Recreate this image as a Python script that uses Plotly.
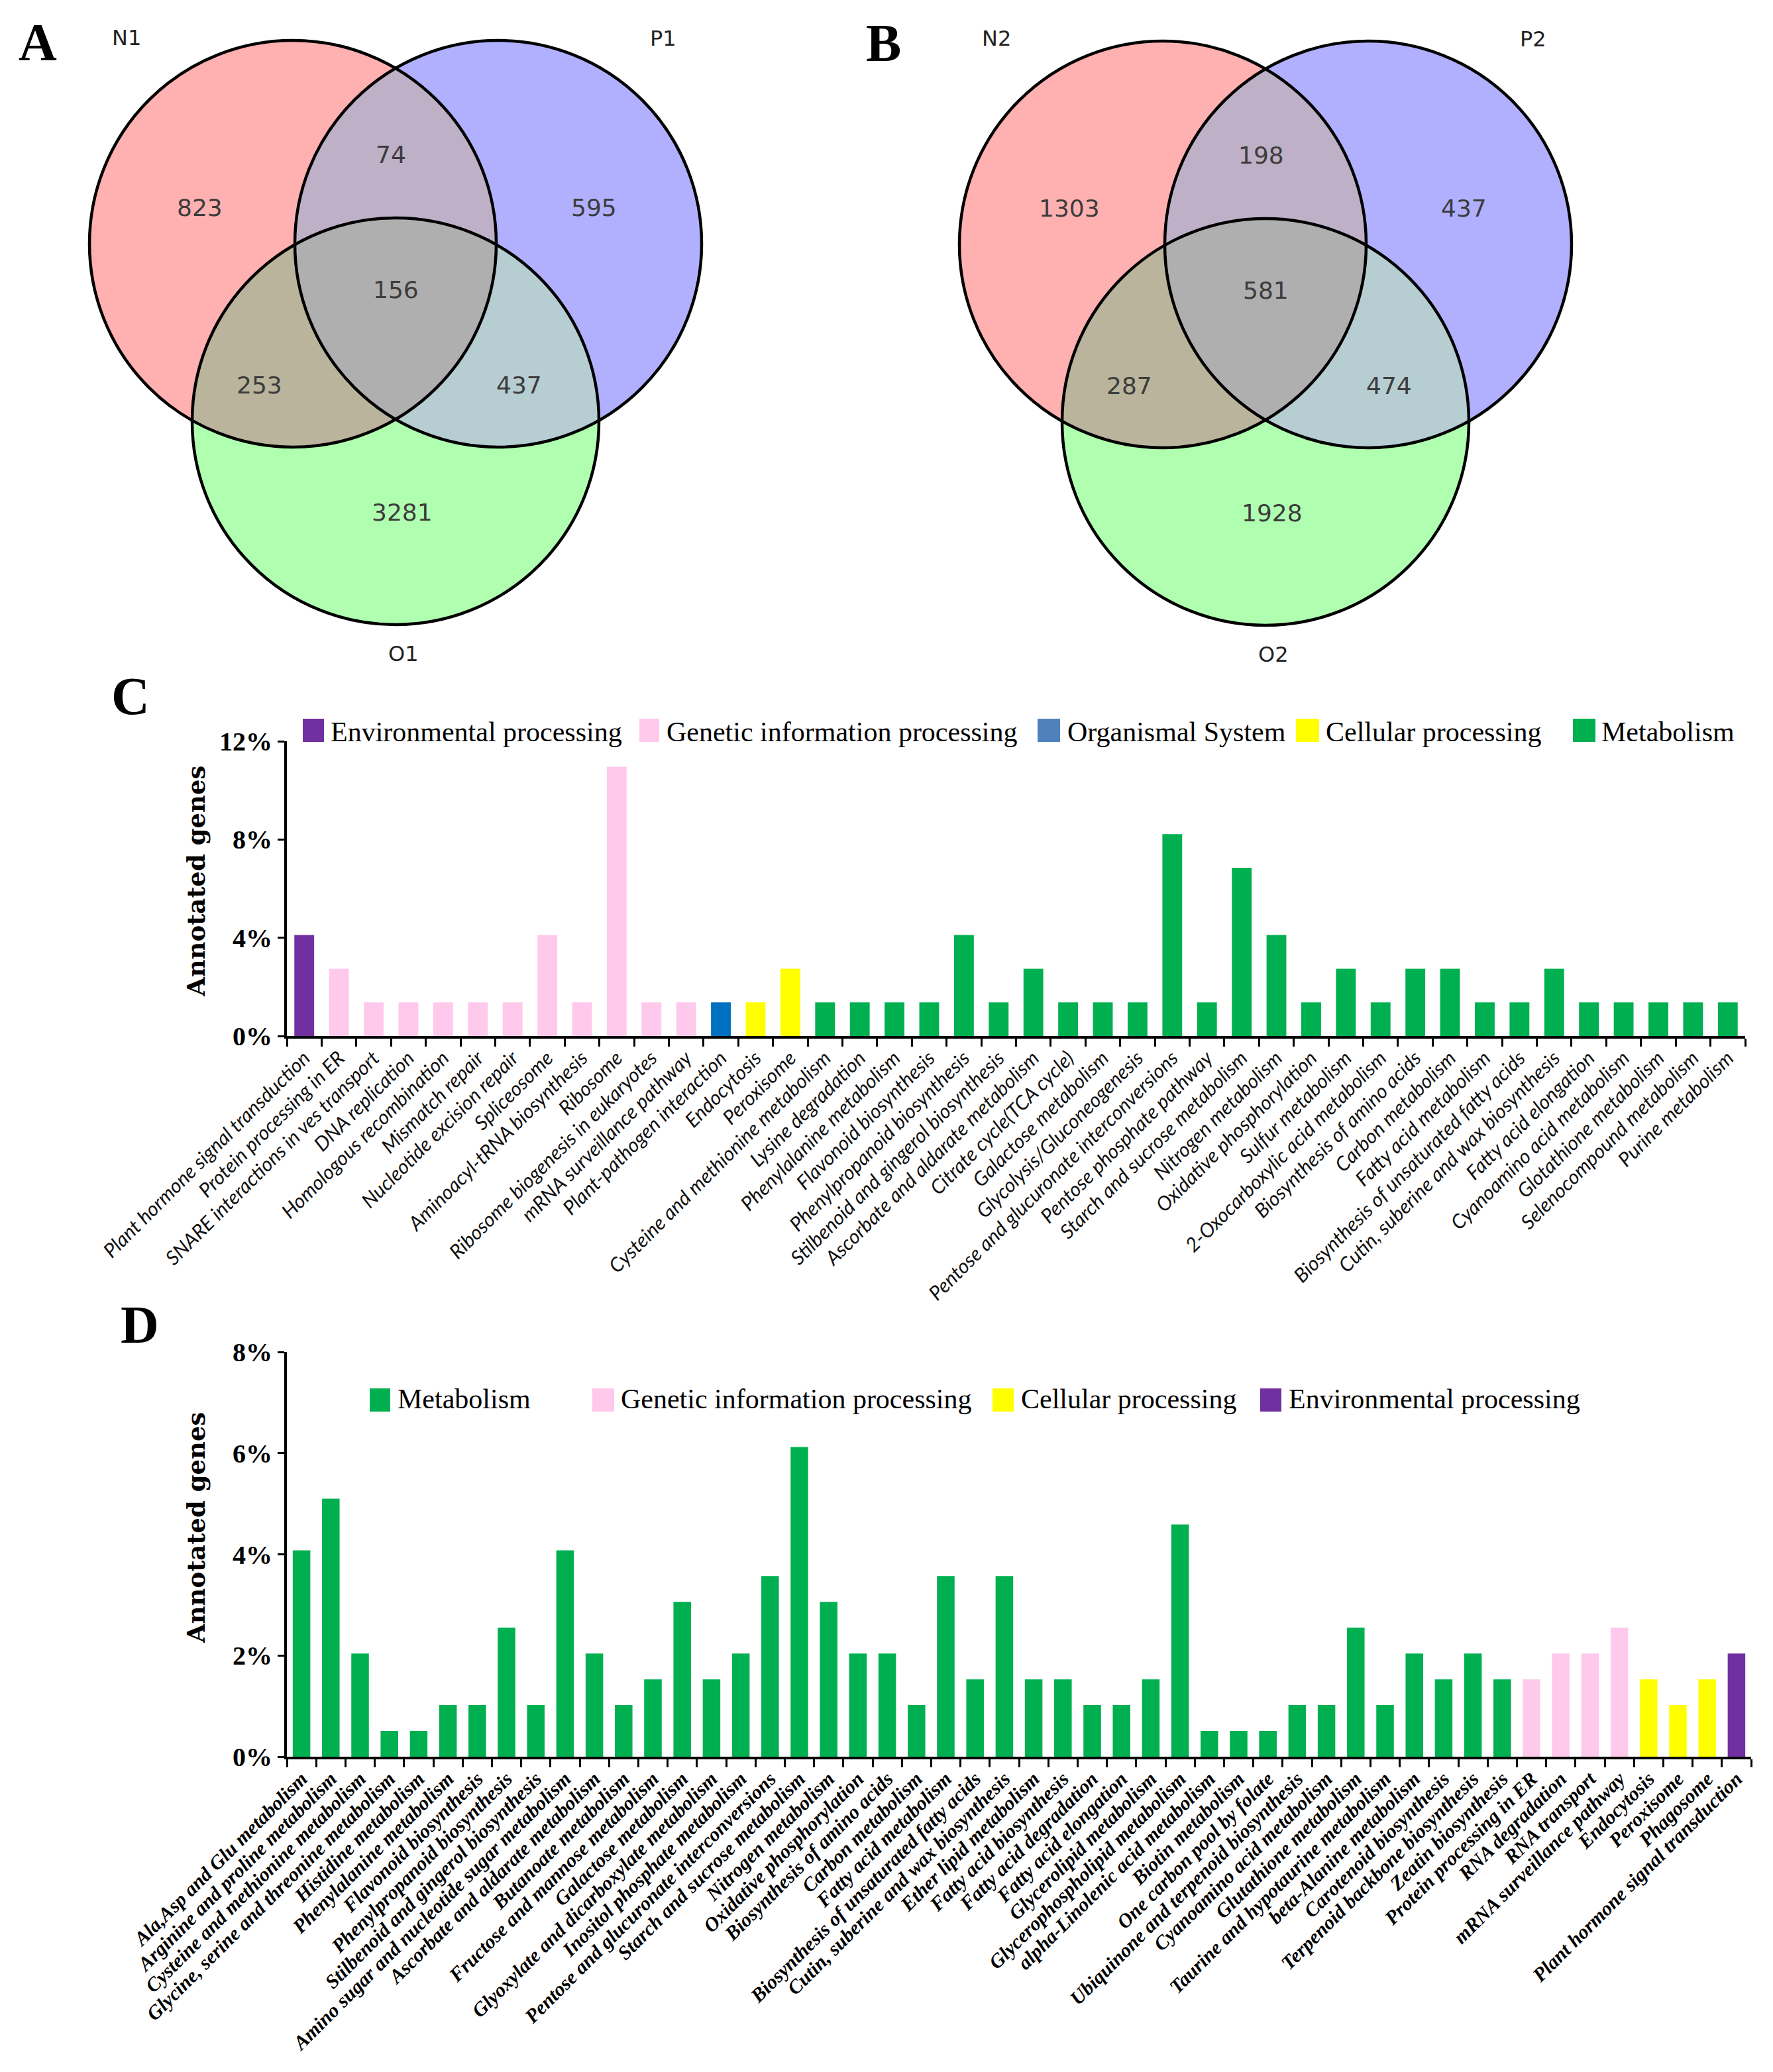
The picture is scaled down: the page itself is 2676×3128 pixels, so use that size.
import numpy as np
import plotly.graph_objects as go

W, H = 2676, 3128

# ---------------- data ----------------
venn_regions = ["N", "P", "O", "NP", "NO", "PO", "NPO"]
venn_A_names = ["N1", "P1", "O1"]
venn_A_counts = [823, 595, 3281, 74, 253, 437, 156]
venn_B_names = ["N2", "P2", "O2"]
venn_B_counts = [1303, 437, 1928, 198, 287, 474, 581]

c_categories = [
    "Plant hormone signal transduction", "Protein processing in ER",
    "SNARE interactions in ves transport", "DNA replication",
    "Homologous recombination", "Mismatch repair", "Nucleotide excision repair",
    "Spliceosome", "Aminoacyl-tRNA biosynthesis", "Ribosome",
    "Ribosome biogenesis in eukaryotes", "mRNA surveillance pathway",
    "Plant-pathogen interaction", "Endocytosis", "Peroxisome",
    "Cysteine and methionine metabolism", "Lysine degradation",
    "Phenylalanine metabolism", "Flavonoid biosynthesis",
    "Phenylpropanoid biosynthesis", "Stilbenoid and gingerol biosynthesis",
    "Ascorbate and aldarate metabolism", "Citrate cycle(TCA cycle)",
    "Galactose metabolism", "Glycolysis/Gluconeogenesis",
    "Pentose and glucuronate interconversions", "Pentose phosphate pathway",
    "Starch and sucrose metabolism", "Nitrogen metabolism",
    "Oxidative phosphorylation", "Sulfur metabolism",
    "2-Oxocarboxylic acid metabolism", "Biosynthesis of amino acids",
    "Carbon metabolism", "Fatty acid metabolism",
    "Biosynthesis of unsaturated fatty acids",
    "Cutin, suberine and wax biosynthesis", "Fatty acid elongation",
    "Cyanoamino acid metabolism", "Glotathione metabolism",
    "Selenocompound metabolism", "Purine metabolism",
]
c_groups = (["Environmental processing"] + ["Genetic information processing"] * 11 +
            ["Organismal System"] + ["Cellular processing"] * 2 + ["Metabolism"] * 27)
c_values = [
    4.11, 2.74, 1.37, 1.37, 1.37, 1.37, 1.37, 4.11, 1.37, 10.96, 1.37, 1.37,
    1.37, 1.37, 2.74,
    1.37, 1.37, 1.37, 1.37, 4.11, 1.37, 2.74, 1.37, 1.37, 1.37, 8.22, 1.37,
    6.85, 4.11, 1.37, 2.74, 1.37, 2.74, 2.74, 1.37, 1.37, 2.74, 1.37, 1.37,
    1.37, 1.37, 1.37,
]

d_categories = [
    "Ala,Asp and Glu metabolism", "Arginine and proline metabolism",
    "Cysteine and methionine metabolism", "Glycine, serine and threonine metabolism",
    "Histidine metabolism", "Phenylalanine metabolism", "Flavonoid biosynthesis",
    "Phenylpropanoid biosynthesis", "Stilbenoid and gingerol biosynthesis",
    "Amino sugar and nucleotide sugar metabolism", "Ascorbate and aldarate metabolism",
    "Butanoate metabolism", "Fructose and mannose metabolism", "Galactose metabolism",
    "Glyoxylate and dicarboxylate metabolism", "Inositol phosphate metabolism",
    "Pentose and glucuronate interconversions", "Starch and sucrose metabolism",
    "Nitrogen metabolism", "Oxidative phosphorylation", "Biosynthesis of amino acids",
    "Carbon metabolism", "Fatty acid metabolism",
    "Biosynthesis of unsaturated fatty acids", "Cutin, suberine and wax biosynthesis",
    "Ether lipid metabolism", "Fatty acid biosynthesis", "Fatty acid degradation",
    "Fatty acid elongation", "Glycerolipid metabolism",
    "Glycerophospholipid metabolism", "alpha-Linolenic acid metabolism",
    "Biotin metabolism", "One carbon pool by folate",
    "Ubiquinone and terpenoid biosynthesis", "Cyanoamino acid metabolism",
    "Glutathione metabolism", "Taurine and hypotaurine metabolism",
    "beta-Alanine metabolism", "Carotenoid biosynthesis",
    "Terpenoid backbone biosynthesis", "Zeatin biosynthesis",
    "Protein processing in ER", "RNA degradation", "RNA transport",
    "mRNA surveillance pathway", "Endocytosis", "Peroxisome", "Phagosome",
    "Plant hormone signal transduction",
]
d_groups = (["Metabolism"] * 42 + ["Genetic information processing"] * 4 +
            ["Cellular processing"] * 3 + ["Environmental processing"])
d_values = [
    4.08, 5.10, 2.04, 0.51, 0.51, 1.02, 1.02, 2.55, 1.02, 4.08, 2.04, 1.02,
    1.53, 3.06, 1.53, 2.04, 3.57, 6.12, 3.06, 2.04, 2.04, 1.02, 3.57, 1.53,
    3.57, 1.53, 1.53, 1.02, 1.02, 1.53, 4.59, 0.51, 0.51, 0.51, 1.02, 1.02,
    2.55, 1.02, 2.04, 1.53, 2.04, 1.53,
    1.53, 2.04, 2.04, 2.55, 1.53, 1.02, 1.53, 2.04,
]

c_legend = ["Environmental processing", "Genetic information processing",
            "Organismal System", "Cellular processing", "Metabolism"]
d_legend = ["Metabolism", "Genetic information processing",
            "Cellular processing", "Environmental processing"]
c_yticks = [0, 4, 8, 12]
c_yticktext = ["0%", "4%", "8%", "12%"]
d_yticks = [0, 2, 4, 6, 8]
d_yticktext = ["0%", "2%", "4%", "6%", "8%"]

# ---------------- styles ----------------
group_colors = {
    "Environmental processing": "#7030A0",
    "Genetic information processing": "#FFC9EC",
    "Organismal System": "#0070C0",
    "Cellular processing": "#FFFF00",
    "Metabolism": "#00B050",
}
legend_swatch = dict(group_colors)
legend_swatch["Organismal System"] = "#4F81BD"

region_colors = {
    "N": "#FFB0B0", "P": "#B0B0FF", "O": "#B0FFB0",
    "NP": "#BEB0C6", "NO": "#B9B49B", "PO": "#B6CDD2", "NPO": "#AFAFAF",
}
R = 307
circle_off = {"N": (-155, -89), "P": (155, -89), "O": (0, 179)}
label_off = {"N": (-296, -144), "NP": (-7, -224), "P": (299, -144), "NPO": (0, -20),
             "NO": (-206, 124), "PO": (186, 124), "O": (10, 316)}
name_off = [(-406, -400), (404, -399), (12, 530)]
venn_centroids = [(589, 449), (1902, 450)]

SERIF = "Liberation Serif"


def px_x(p):
    return p / W


def px_y(p):
    return 1 - p / H


fig = go.Figure()


def region_polygon(centers, r, n=2000):
    pts = []
    t = np.linspace(0, 2 * np.pi, n, endpoint=False)
    for i, (cx, cy) in enumerate(centers):
        xs = cx + r * np.cos(t)
        ys = cy + r * np.sin(t)
        inside = np.ones(n, bool)
        for j, (ox, oy) in enumerate(centers):
            if j != i:
                inside &= (xs - ox) ** 2 + (ys - oy) ** 2 <= r * r + 1e-6
        pts.append(np.c_[xs[inside], ys[inside]])
    P = np.vstack(pts)
    c = P.mean(axis=0)
    ang = np.arctan2(P[:, 1] - c[1], P[:, 0] - c[0])
    P = P[np.argsort(ang)]
    return np.r_[P[:, 0], P[0, 0]], np.r_[P[:, 1], P[0, 1]]


shapes = []
annotations = []

# ---------------- bar charts ----------------
fig.add_trace(go.Bar(x=c_categories, y=c_values,
                     marker=dict(color=[group_colors[g] for g in c_groups], line=dict(width=0)),
                     width=0.57, xaxis="x", yaxis="y", hoverinfo="skip"))
fig.add_trace(go.Bar(x=d_categories, y=d_values,
                     marker=dict(color=[group_colors[g] for g in d_groups], line=dict(width=0)),
                     width=0.6, xaxis="x2", yaxis="y2", hoverinfo="skip"))

# ---------------- venn diagrams ----------------
for (gx, gy), names, counts in zip(venn_centroids, [venn_A_names, venn_B_names],
                                   [venn_A_counts, venn_B_counts]):
    centers = {k: (gx + dx, gy + dy) for k, (dx, dy) in circle_off.items()}
    for key in sorted(venn_regions, key=len):
        xs, ys = region_polygon([centers[ch] for ch in key], R)
        fig.add_trace(go.Scatter(x=xs, y=ys, mode="lines", fill="toself",
                                 fillcolor=region_colors[key], line=dict(width=0),
                                 xaxis="x3", yaxis="y3", hoverinfo="skip"))
    for k in ["N", "P", "O"]:
        cx, cy = centers[k]
        shapes.append(dict(type="circle", xref="x3", yref="y3",
                           x0=cx - R, x1=cx + R, y0=cy - R, y1=cy + R,
                           line=dict(color="black", width=4.5), layer="above"))
    for key, cnt in zip(venn_regions, counts):
        dx, dy = label_off[key]
        annotations.append(dict(x=gx + dx, y=gy + dy, xref="x3", yref="y3",
                                text=str(cnt), showarrow=False,
                                font=dict(family="DejaVu Sans", size=36, color="#3c3c3c")))
    for nm, (dx, dy) in zip(names, name_off):
        annotations.append(dict(x=gx + dx, y=gy + dy, xref="x3", yref="y3",
                                text=nm, showarrow=False,
                                font=dict(family="DejaVu Sans", size=32, color="#222222")))

# panel letters
for letter, (lx, ly) in zip("ABCD", [(49, 56), (1325, 57), (189, 1043), (203, 1992)]):
    annotations.append(dict(x=lx, y=ly, xref="x3", yref="y3", text=letter,
                            showarrow=False,
                            font=dict(family=SERIF, size=80, color="black", weight="bold")))

# legends (manual)
c_leg_pos = [(449, 481, 489), (957, 987, 996), (1558, 1592, 1601),
             (1948, 1983, 1991), (2366, 2400, 2407)]
for g, (x0, x1, tx) in zip(c_legend, c_leg_pos):
    shapes.append(dict(type="rect", xref="x3", yref="y3", x0=x0, x1=x1, y0=1077, y1=1112,
                       fillcolor=legend_swatch[g], line=dict(width=0)))
    annotations.append(dict(x=tx, y=1097, xref="x3", yref="y3", text=g, showarrow=False,
                            xanchor="left", yanchor="middle",
                            font=dict(family=SERIF, size=42, color="black")))
d_leg_pos = [(550, 581, 590), (886, 919, 927), (1490, 1522, 1531), (1894, 1926, 1935)]
for g, (x0, x1, tx) in zip(d_legend, d_leg_pos):
    shapes.append(dict(type="rect", xref="x3", yref="y3", x0=x0, x1=x1, y0=2088, y1=2123,
                       fillcolor=legend_swatch[g], line=dict(width=0)))
    annotations.append(dict(x=tx, y=2104, xref="x3", yref="y3", text=g, showarrow=False,
                            xanchor="left", yanchor="middle",
                            font=dict(family=SERIF, size=42, color="black")))

# y-axis titles
for ty in [1323, 2299]:
    annotations.append(dict(x=288, y=ty, xref="x3", yref="y3", text="Annotated genes",
                            textangle=-90, showarrow=False,
                            font=dict(family="DejaVu Serif", size=37, color="black",
                                      weight="bold")))

axis_common = dict(showline=True, linecolor="black", linewidth=4, ticks="outside",
                   tickcolor="black", tickwidth=3, showgrid=False, zeroline=False,
                   automargin=False, fixedrange=True)

fig.update_layout(
    width=W, height=H, margin=dict(l=0, r=0, t=0, b=0),
    paper_bgcolor="white", plot_bgcolor="rgba(0,0,0,0)", showlegend=False,
    template="none",
    xaxis=dict(domain=[px_x(425), px_x(2626)], anchor="y", type="category",
               range=[-0.5, len(c_categories) - 0.5], tickson="boundaries", ticklen=12,
               tickangle=-45,
               tickfont=dict(family="Lato", size=30, color="#111111", style="italic"),
               **axis_common),
    yaxis=dict(domain=[px_y(1556), px_y(1111)], anchor="x", range=[0, 12],
               tickmode="array", tickvals=c_yticks, ticktext=c_yticktext, ticklen=10,
               tickfont=dict(family=SERIF, size=40, color="black", weight="bold"),
               **axis_common),
    xaxis2=dict(domain=[px_x(425), px_x(2635)], anchor="y2", type="category",
                range=[-0.5, len(d_categories) - 0.5], tickson="boundaries", ticklen=12,
                tickangle=-45,
                tickfont=dict(family=SERIF, size=30, color="black", weight="bold",
                              style="italic"),
                **axis_common),
    yaxis2=dict(domain=[px_y(2644), px_y(2033)], anchor="x2", range=[0, 8],
                tickmode="array", tickvals=d_yticks, ticktext=d_yticktext, ticklen=10,
                tickfont=dict(family=SERIF, size=40, color="black", weight="bold"),
                **axis_common),
    xaxis3=dict(domain=[0, 1], range=[0, W], visible=False, anchor="y3", fixedrange=True),
    yaxis3=dict(domain=[0, 1], range=[H, 0], visible=False, anchor="x3", fixedrange=True),
    shapes=shapes,
    annotations=annotations,
)

fig.write_html("out.html")
